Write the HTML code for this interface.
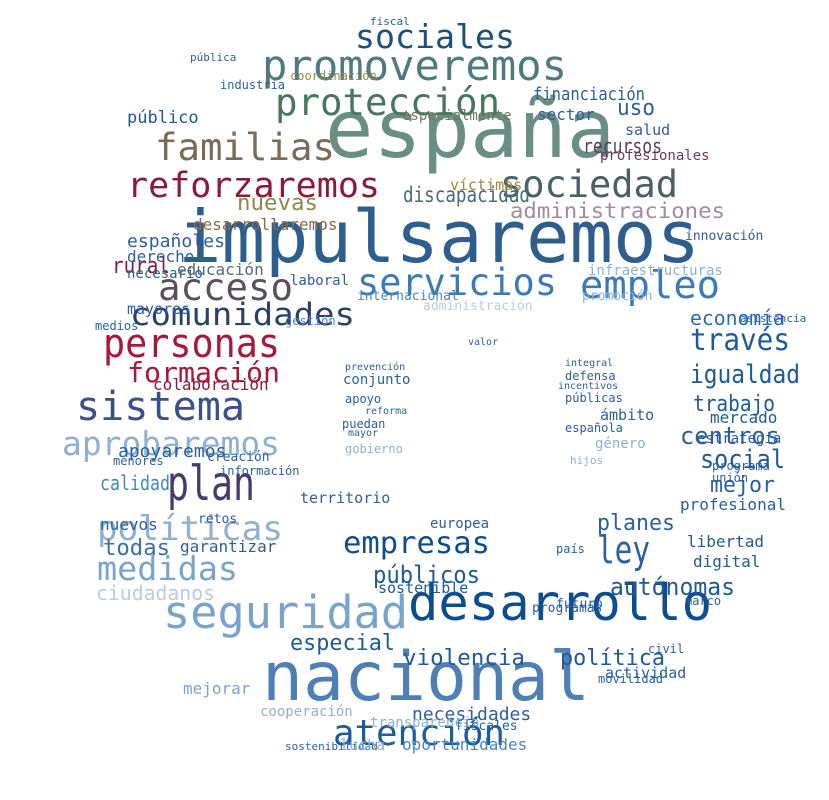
<!DOCTYPE html>
<html><head><meta charset="utf-8"><style>
html,body{margin:0;padding:0;background:#fff;width:829px;height:800px;overflow:hidden}
svg text{font-family:"DejaVu Sans Mono","Liberation Mono",monospace}
</style></head><body>
<svg id="cloud" width="829" height="800" viewBox="0 0 829 800" xmlns="http://www.w3.org/2000/svg"></svg>
<script>
const words=[
"españa","impulsaremos","nacional","desarrollo","seguridad","atención","promoveremos","protección","sociales","sociedad",
"reforzaremos","familias","acceso","servicios","empleo","comunidades","personas","formación","sistema","aprobaremos",
"plan","políticas","medidas","ciudadanos","todas","calidad","empresas","ley","públicos","autónomas",
"través","igualdad","trabajo","centros","social","mejor","economía","uso","financiación","recursos",
"administraciones","discapacidad","nuevas","violencia","especial","política","planes","rural","españoles","educación",
"mayores","derecho","necesario","medios","desarrollaremos","público","sector","apoyaremos","colaboración","garantizar",
"digital","libertad","mercado","estrategia","necesidades","oportunidades","profesional","víctimas","especialmente","salud",
"profesionales","laboral","mejorar","actividad","cooperación","nuevos","creación","información","sostenible","conjunto",
"ámbito","género","infraestructuras","innovación","internacional","gestión","coordinación","industria","pública","fiscal",
"sostenibilidad","transparencia","lucha","territorio","fiscales","retos","menores","apoyo","programas","unión",
"programa","europea","futuro","país","movilidad","civil","asistencia","marco","administración","promoción",
"prevención","reforma","puedan","mayor","gobierno","defensa","públicas","española","hijos","integral",
"valor","incentivos"];
const wx=[
325,178,262,408,163,333,262,275,355,500,
127,155,158,357,580,130,103,127,76,62,
167,97,97,96,103,100,343,597,373,610,
690,690,693,680,700,710,690,617,533,583,
510,403,237,403,290,560,597,112,127,177,
127,127,127,95,193,127,537,118,153,180,
693,687,710,697,412,402,680,450,402,625,
600,290,183,605,260,100,207,220,378,343,
600,595,588,685,357,285,290,220,190,370,
285,370,340,300,455,198,113,345,532,712,
712,430,556,556,598,648,740,685,423,582,
345,365,342,348,345,565,565,565,570,565,
468,558];
const wy=[
157,262,700,620,628,745,80,115,48,197,
197,160,300,295,298,325,357,382,420,455,
500,540,580,600,555,490,553,563,583,595,
350,383,411,444,468,492,325,115,100,153,
218,202,210,665,650,665,530,273,247,275,
314,262,278,330,230,123,120,457,390,552,
567,547,423,443,720,750,510,190,120,135,
160,285,694,678,716,530,461,475,593,384,
420,448,275,240,300,325,80,89,61,25,
750,727,750,503,730,523,465,403,612,482,
470,528,608,553,683,653,322,605,310,300,
370,414,428,436,453,380,402,432,464,366,
345,389];
const wsz=[
80,72,68,50,45,36,42,37,33,37,
35,37,37,37,38,31,40,28,40,33,
48,34,33,20,22,20,30,38,24,24,
30,26,22,24,26,22,20,22,18,20,
21,21,22,22,22,22,22,22,18,16,
15,16,14,12,16,17,16,18,16,16,
16,16,16,14,18,16,16,15,14,15,
14,14,16,15,14,16,13,12,15,14,
15,14,14,13,13,12,12,12,11,11,
11,14,15,15,13,13,12,12,13,12,
12,14,13,12,12,12,11,12,13,13,
10,10,12,10,12,12,12,12,11,10,
10,10];
const wlen=[290,522,328,304,245,172,305,225,160,178,253,180,135,200,140,225,177,153,169,218,88,186,141,119,67,70,147,53,107,125,100,110,82,100,85,65,95,38,112,79,215,127,81,122,105,105,78,58,98];
const wcol=[
"#6b8e84","#2e5e8e","#4f7fb5","#0d4d8f","#7aa3cc","#1a5ca0","#4f7b80","#47765e","#1c4f7a","#4a5f68",
"#8b1a3a","#7a6a5a","#5a4f5a","#3a7ab8","#3a7ab8","#2a3f6a","#a8183a","#a8183a","#3b4f8a","#8eb0d4",
"#463a6e","#8eb0d4","#7aa3cc","#b8cde2","#3a6ea8","#4a85c0","#0d4d8f","#2a5fa0","#1c5a9a","#1c5a9a",
"#1c5a9a","#1c5a9a","#1c5a9a","#2a5fa0","#1c5a9a","#2a5fa0","#2a6eb0","#2a5fa0","#2a5fa0","#5a3f5a",
"#a08aa8","#4a6a7a","#8a8a4a","#1c5a9a","#1c5a9a","#1c5a9a","#2a5fa0","#8b1a3a","#2a5fa0","#5a6a6a",
"#2a5fa0","#2a5fa0","#2a5fa0","#2a5fa0","#8a6a4a","#1c5a9a","#2a5fa0","#2a5fa0","#8b1a3a","#2a5fa0",
"#1c5a9a","#1c5a9a","#1c5a9a","#2a5fa0","#2a5fa0","#4a85c0","#2a5fa0","#9a8a3a","#6a7a5a","#2a5fa0",
"#6a3a5a","#2a5fa0","#7aa3cc","#2a5fa0","#8eb0d4","#2a5fa0","#2a5fa0","#2a5fa0","#1c5a9a","#2a5fa0",
"#2a5fa0","#8eb0d4","#8eb0d4","#2a5fa0","#4a85c0","#4a85c0","#9a8a3a","#2a5fa0","#2a5fa0","#2a5fa0",
"#2a5fa0","#8eb0d4","#8eb0d4","#2a5fa0","#2a5fa0","#2a5fa0","#2a5fa0","#2a5fa0","#2a5fa0","#2a5fa0",
"#2a5fa0","#2a5fa0","#2a5fa0","#2a5fa0","#2a5fa0","#2a5fa0","#2a5fa0","#2a5fa0","#b8cde2","#8eb0d4",
"#2a5fa0","#2a5fa0","#2a5fa0","#2a5fa0","#8eb0d4","#2a5fa0","#2a5fa0","#2a5fa0","#8eb0d4","#2a5fa0",
"#2a5fa0","#2a5fa0"];
const svg=document.getElementById('cloud');
for(let i=0;i<words.length;i++){
  const t=document.createElementNS('http://www.w3.org/2000/svg','text');
  
  
  t.setAttribute('x',wx[i]);t.setAttribute('y',wy[i]);
  t.setAttribute('font-size',wsz[i]);t.setAttribute('fill',wcol[i]);
  if(i<wlen.length){t.setAttribute('textLength',wlen[i]);t.setAttribute('lengthAdjust','spacingAndGlyphs');}
  t.textContent=words[i];
  svg.appendChild(t);
}
</script>
</body></html>
